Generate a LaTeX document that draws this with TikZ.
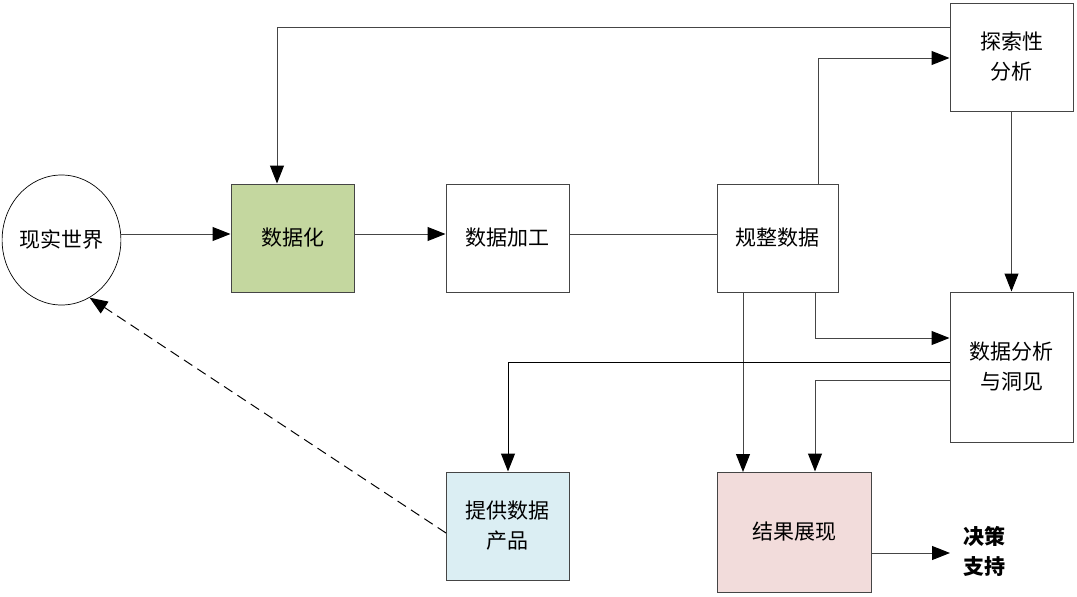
\documentclass[tikz,border=0pt]{standalone}
\usepackage{fontspec}
\setmainfont{Noto Sans CJK SC}
\usetikzlibrary{shapes.geometric,arrows.meta}
\definecolor{lnc}{HTML}{454545}
\definecolor{gfill}{HTML}{C4D79F}
\definecolor{bfill}{HTML}{DBEEF3}
\definecolor{pfill}{HTML}{F2DCDB}
\tikzset{
  box/.style={draw=lnc, line width=1pt, minimum width=123pt, minimum height=108pt, inner sep=0pt, align=center, font=\fontsize{21}{30}\selectfont},
  conn/.style={draw=lnc, line width=1pt},
  arr/.style={conn, -{Triangle[length=18pt,width=14pt,color=black]}},
}
\begin{document}
\begin{tikzpicture}[x=1pt,y=-1pt]
\useasboundingbox (0,0) rectangle (1077,597);
\node[ellipse, draw=black, line width=0.7pt, minimum width=117pt, minimum height=130pt, inner sep=0pt, font=\fontsize{21}{30}\selectfont] (real) at (61.5,240) {现实世界};
\node[box, fill=gfill] (digit) at (292.5,238) {数据化};
\node[box] (proc) at (507.5,238) {数据加工};
\node[box, minimum width=121pt] (norm) at (777.5,238) {规整数据};
\node[box] (explore) at (1011.5,57) {探索性\\分析};
\node[box, minimum height=150pt] (anal) at (1011.5,367) {数据分析\\与洞见};
\node[box, fill=bfill] (prod) at (507.5,526) {提供数据\\产品};
\node[box, fill=pfill, minimum width=154pt, minimum height=120pt] (show) at (794,532) {结果展现};
\node[anchor=west, align=left, inner sep=0pt, font=\fontsize{21}{30}\selectfont\bfseries] (dec) at (963,551) {决策\\支持};

% coordinates for bends
\coordinate (e1) at (950,27);
\coordinate (e2) at (277,27);
\coordinate (n1) at (818,58);
\coordinate (n2) at (815,338);
\coordinate (a1) at (950,362);
\coordinate (a2) at (508,362);
\coordinate (a3) at (950,380);
\coordinate (a4) at (815,380);
\coordinate (s1) at (871,553);
\coordinate (d1) at (950,553);

\draw[arr] (real.east |- 0,234) -- (digit.west |- 0,234);
\draw[arr] (digit.east |- 0,234) -- (proc.west |- 0,234);
\draw[conn] (proc.east |- 0,234) -- (norm.west |- 0,234);
\draw[arr] (e1) -- (e2) -- (e2 |- digit.north);
\draw[arr] (n1 |- norm.north) -- (n1) -- (n1 -| explore.west);
\draw[arr] (explore.south) -- (anal.north);
\draw[arr] (n2 |- norm.south) -- (n2) -- (n2 -| anal.west);
\draw[arr] (743,292) -- (743,472);
\draw[arr, draw=black] (a1) -- (a2) -- (a2 |- prod.north);
\draw[arr] (a3) -- (a4) -- (a4 |- show.north);
\draw[arr] (s1) -- (d1);
\draw[arr, draw=black, dash pattern=on 10pt off 6pt] (446,533) -- (real.-64);
\end{tikzpicture}
\end{document}
